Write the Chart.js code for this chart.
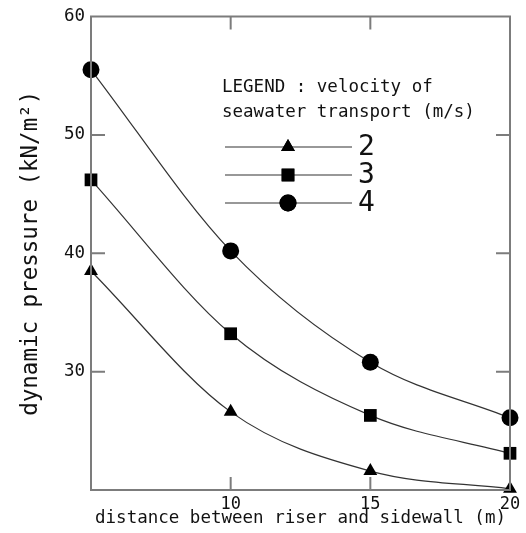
<!DOCTYPE html>
<html>
<head>
<meta charset="utf-8">
<script src="https://cdn.jsdelivr.net/npm/chart.js@4.4.0/dist/chart.umd.min.js"></script>
<style>
  html, body { margin: 0; padding: 0; background: #fff; }
  #wrap { width: 526px; height: 533px; }
</style>
</head>
<body>
<div id="wrap"><canvas id="chart" width="526" height="533"></canvas></div>
<script>
// -------------------------------
// DATA
// -------------------------------
const distances = [5, 10, 15, 20];            // distance between riser and sidewall (m)
const velocities = ['2', '3', '4'];           // seawater transport velocity (m/s)
const pressureV2 = [38.5, 26.6, 21.6, 20.1];  // kN/m2
const pressureV3 = [46.2, 33.2, 26.3, 23.1];
const pressureV4 = [55.5, 40.2, 30.8, 26.1];
const xTickValues = [10, 15, 20];
const yTickValues = [30, 40, 50, 60];

const legendTitle = ['LEGEND : velocity of', 'seawater transport (m/s)'];
const xTitle = 'distance between riser and sidewall (m)';
const yTitle = 'dynamic pressure (kN/m\u00B2)';

// -------------------------------
// STYLE
// -------------------------------
const MONO = "'DejaVu Sans Mono', 'Liberation Mono', monospace";
const AXIS_COLOR = '#7c7c7c';
const LINE_COLOR = '#333';

function makeSeries(label, values, style, radius) {
    return {
        label: label,
        data: distances.map((d, i) => ({ x: d, y: values[i] })),
        borderColor: LINE_COLOR,
        borderWidth: 1.2,
        backgroundColor: '#000',
        pointStyle: style,
        pointRadius: radius,
        pointBorderWidth: 0,
        pointBackgroundColor: '#000',
        cubicInterpolationMode: 'monotone',
        fill: false,
        clip: false
    };
}

const datasets = [
    makeSeries(velocities[0], pressureV2, 'triangle', 8),
    makeSeries(velocities[1], pressureV3, 'rect', 9),
    makeSeries(velocities[2], pressureV4, 'circle', 8.5)
];

// -------------------------------
// PLUGIN: boxed frame, inward ticks, drawn legend
// -------------------------------
const framePlugin = {
    id: 'frame',
    afterDraw(chart) {
        const ctx = chart.ctx;
        const { left, right, top, bottom } = chart.chartArea;
        const xs = chart.scales.x, ys = chart.scales.y;

        ctx.save();
        ctx.strokeStyle = AXIS_COLOR;
        ctx.lineWidth = 2;
        ctx.strokeRect(left, top, right - left, bottom - top);

        ctx.beginPath();
        xTickValues.forEach(v => {
            const px = xs.getPixelForValue(v);
            if (px >= right - 1) return;
            ctx.moveTo(px, bottom); ctx.lineTo(px, bottom - 13);
            ctx.moveTo(px, top); ctx.lineTo(px, top + 13);
        });
        yTickValues.forEach(v => {
            const py = ys.getPixelForValue(v);
            if (py <= top + 1) return;
            ctx.moveTo(left, py); ctx.lineTo(left + 14, py);
            ctx.moveTo(right, py); ctx.lineTo(right - 14, py);
        });
        ctx.stroke();

        // legend
        ctx.fillStyle = '#111';
        ctx.font = '17.5px ' + MONO;
        ctx.textBaseline = 'middle';
        ctx.textAlign = 'left';
        ctx.fillText(legendTitle[0], 222, 87);
        ctx.fillText(legendTitle[1], 222, 112);

        const rowY = [147, 175, 203];
        chart.data.datasets.forEach((ds, i) => {
            const y = rowY[i];
            ctx.strokeStyle = LINE_COLOR;
            ctx.lineWidth = 1.2;
            ctx.beginPath();
            ctx.moveTo(225, y);
            ctx.lineTo(352, y);
            ctx.stroke();
            ctx.fillStyle = '#000';
            Chart.helpers.drawPoint(ctx, { pointStyle: ds.pointStyle, radius: ds.pointRadius, rotation: 0, borderWidth: 0 }, 288, y);
            ctx.fill();
            ctx.fillStyle = '#111';
            ctx.font = '28px ' + MONO;
            ctx.fillText(ds.label, 358, y + 1);
        });
        ctx.restore();
    }
};

// -------------------------------
// CHART
// -------------------------------
new Chart(document.getElementById('chart'), {
    type: 'line',
    data: { datasets: datasets },
    options: {
        responsive: false,
        animation: false,
        layout: { padding: { top: 16, right: 16, left: 0, bottom: 0 } },
        plugins: { legend: { display: false }, tooltip: { enabled: false } },
        scales: {
            x: {
                type: 'linear',
                min: 5, max: 20,
                afterFit: s => { s.height = 43; },
                grid: { display: false, drawTicks: false },
                border: { display: false },
                ticks: {
                    stepSize: 5,
                    padding: 4,
                    color: '#111',
                    font: { family: MONO, size: 17 },
                    maxRotation: 0,
                    callback: v => xTickValues.includes(v) ? String(v) : ''
                },
                title: {
                    display: true,
                    text: xTitle,
                    color: '#111',
                    font: { family: MONO, size: 17.5 },
                    padding: { top: 0, bottom: 4 }
                }
            },
            y: {
                type: 'linear',
                min: 20, max: 60,
                afterFit: s => { s.width = 91; },
                grid: { display: false, drawTicks: false },
                border: { display: false },
                ticks: {
                    stepSize: 10,
                    padding: 6,
                    color: '#111',
                    font: { family: MONO, size: 17.5 },
                    callback: v => yTickValues.includes(v) ? String(v) : ''
                },
                title: {
                    display: true,
                    text: yTitle,
                    color: '#111',
                    font: { family: MONO, size: 22.5 },
                    padding: { top: 18, bottom: 0 }
                }
            }
        }
    },
    plugins: [framePlugin]
});
</script>
</body>
</html>
